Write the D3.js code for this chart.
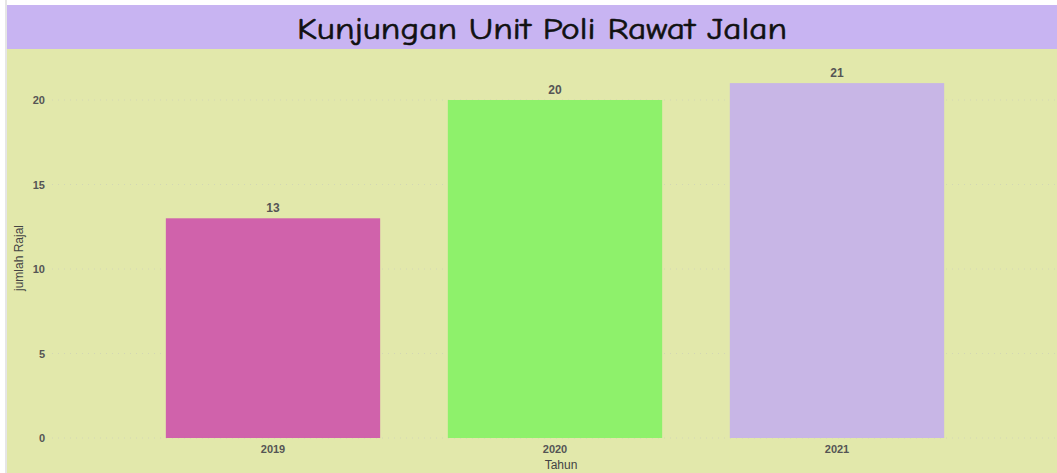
<!DOCTYPE html>
<html>
<head>
<meta charset="utf-8">
<script src="https://cdn.jsdelivr.net/npm/d3@7"></script>
<style>
  html, body { margin: 0; padding: 0; background: #ffffff; }
  svg { display: block; }
</style>
</head>
<body>
<svg id="chart" width="1057" height="473"></svg>
<script>
// Data
const years = ["2019", "2020", "2021"];
const visits = [13, 20, 21];
const barColors = ["#d062ab", "#8ef16b", "#c8b6e6"];
const yTicks = [0, 5, 10, 15, 20];

const W = 1057, H = 473;
const svg = d3.select("#chart");

// page edges
svg.append("rect").attr("x", 0).attr("y", 0).attr("width", W).attr("height", H).attr("fill", "#ffffff");
svg.append("rect").attr("x", 5).attr("y", 0).attr("width", 2).attr("height", H).attr("fill", "#e6e6e6");

// title band
svg.append("rect").attr("x", 7).attr("y", 5).attr("width", W - 7).attr("height", 44).attr("fill", "#c8b4f2");
svg.append("text")
  .attr("x", 542).attr("y", 39)
  .attr("text-anchor", "middle")
  .attr("font-family", "'Comic Sans MS', 'Comic Neue', 'DejaVu Sans', sans-serif")
  .attr("font-size", 30)
  .attr("textLength", 490)
  .attr("lengthAdjust", "spacingAndGlyphs")
  .attr("fill", "#111111")
  .attr("stroke", "#111111")
  .attr("stroke-width", 0.6)
  .text("Kunjungan Unit Poli Rawat Jalan");

// plot background
svg.append("rect").attr("x", 7).attr("y", 49).attr("width", W - 7).attr("height", H - 49).attr("fill", "#e2e8ab");

// scales
const x = d3.scaleBand().domain(years).range([132, 978]).paddingInner(0.24).paddingOuter(0.12);
const y = d3.scaleLinear().domain([0, 20]).range([438, 100]);

// grid lines
const grid = svg.append("g");
grid.selectAll("line").data(yTicks).join("line")
  .attr("x1", 52).attr("x2", W)
  .attr("y1", d => y(d)).attr("y2", d => y(d))
  .attr("stroke", "#d2d6b4")
  .attr("stroke-width", 1)
  .attr("stroke-dasharray", "1,5");

// y axis tick labels
const yAxis = d3.axisLeft(y).tickValues(yTicks).tickSize(0).tickPadding(0);
const gy = svg.append("g").attr("transform", "translate(45,0)").call(yAxis);
gy.select(".domain").remove();
gy.selectAll("text")
  .attr("font-family", "'Liberation Sans', Arial, sans-serif")
  .attr("font-size", 11).attr("font-weight", "bold").attr("fill", "#555555");

// bars
svg.append("g").selectAll("rect").data(years).join("rect")
  .attr("x", d => x(d))
  .attr("y", (d, i) => y(visits[i]))
  .attr("width", x.bandwidth())
  .attr("height", (d, i) => y(0) - y(visits[i]))
  .attr("fill", (d, i) => barColors[i]);

// value labels
svg.append("g").selectAll("text").data(years).join("text")
  .attr("x", d => x(d) + x.bandwidth() / 2)
  .attr("y", (d, i) => y(visits[i]) - 6)
  .attr("text-anchor", "middle")
  .attr("font-family", "'Liberation Sans', Arial, sans-serif")
  .attr("font-size", 12).attr("font-weight", "bold").attr("fill", "#555555")
  .text((d, i) => visits[i]);

// x axis labels
const xAxis = d3.axisBottom(x).tickSize(0).tickPadding(0);
const gx = svg.append("g").attr("transform", "translate(0,445)").call(xAxis);
gx.select(".domain").remove();
gx.selectAll("text")
  .attr("dy", "0.71em")
  .attr("font-family", "'Liberation Sans', Arial, sans-serif")
  .attr("font-size", 11).attr("font-weight", "bold").attr("fill", "#555555");

// axis titles
svg.append("text")
  .attr("x", 561).attr("y", 469)
  .attr("text-anchor", "middle")
  .attr("font-family", "'Liberation Sans', Arial, sans-serif")
  .attr("font-size", 12).attr("fill", "#444444")
  .text("Tahun");

svg.append("text")
  .attr("transform", "translate(23,258) rotate(-90)")
  .attr("text-anchor", "middle")
  .attr("font-family", "'Liberation Sans', Arial, sans-serif")
  .attr("font-size", 12).attr("fill", "#444444")
  .text("jumlah Rajal");
</script>
</body>
</html>
